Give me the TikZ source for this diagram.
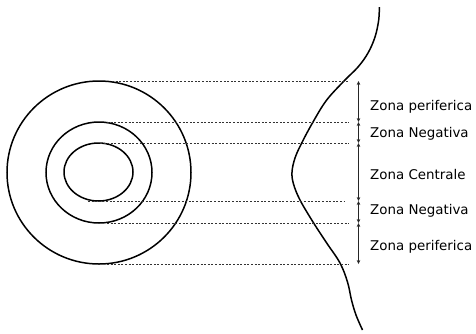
\documentclass[tikz,border=0pt]{standalone}
\usepackage{fontspec}
\setmainfont{DejaVu Sans}
\usetikzlibrary{arrows.meta}
\begin{document}
\begin{tikzpicture}[x=1bp,y=-1bp,
  ring/.style={draw=black,line width=1.5bp},
  guide/.style={draw=black!80,line width=0.7bp,dash pattern=on 2bp off 1.6bp},
  dim/.style={draw=black!85,line width=0.7bp,{Stealth[length=4bp,width=3.6bp]}-{Stealth[length=4bp,width=3.6bp]}},
  lbl/.style={anchor=base west,inner sep=0pt,font=\fontsize{13.4bp}{15bp}\selectfont}]
\useasboundingbox (0,0) rectangle (476,333);
% rings
\draw[ring] (99,172.5) ellipse [x radius=92,y radius=91.5];
\draw[ring] (99,172.5) ellipse [x radius=53,y radius=50.5];
\draw[ring] (98.5,172) ellipse [x radius=34.5,y radius=29];
% profile curve
\draw[ring,line join=round] plot[smooth,tension=0.6] coordinates {
 (379.3,7) (378.7,20) (375,37) (368,53) (358,67) (345,80) (326.7,100)
 (313,122) (301.7,143) (295,158) (292,172) (293.5,184) (300,200) (313,222)
 (326.7,243) (340,263) (347.5,282) (351.5,300) (356,315) (362.5,330)};
% named end points of guide lines
\coordinate (g1a) at (112,81);   \coordinate (g1b) at (349,81);
\coordinate (g2a) at (107,122);  \coordinate (g2b) at (349,122);
\coordinate (g3a) at (100,143);  \coordinate (g3b) at (349,143);
\coordinate (g4a) at (88,201);   \coordinate (g4b) at (345,201);
\coordinate (g5a) at (107,223);  \coordinate (g5b) at (349,223);
\coordinate (g6a) at (107,264);  \coordinate (g6b) at (349,264);
\foreach \i in {1,...,6} {\draw[guide] (g\i a) -- (g\i b);}
% dimension line
\coordinate (d1) at (358.5,81);
\coordinate (d2) at (358.5,122);
\coordinate (d3) at (358.5,143);
\coordinate (d4) at (358.5,201);
\coordinate (d5) at (358.5,223);
\coordinate (d6) at (358.5,264);
\draw[dim] (d1) -- (d2);
\draw[dim] (d2) -- (d3);
\draw[dim] (d3) -- (d4);
\draw[dim] (d4) -- (d5);
\draw[dim] (d5) -- (d6);
% labels
\node[lbl] (l1) at (370,110.9) {Zona periferica};
\node[lbl] (l2) at (370,137.9) {Zona Negativa};
\node[lbl] (l3) at (370,179.9) {Zona Centrale};
\node[lbl] (l4) at (370,214.9) {Zona Negativa};
\node[lbl] (l5) at (370,250.9) {Zona periferica};
\end{tikzpicture}
\end{document}
